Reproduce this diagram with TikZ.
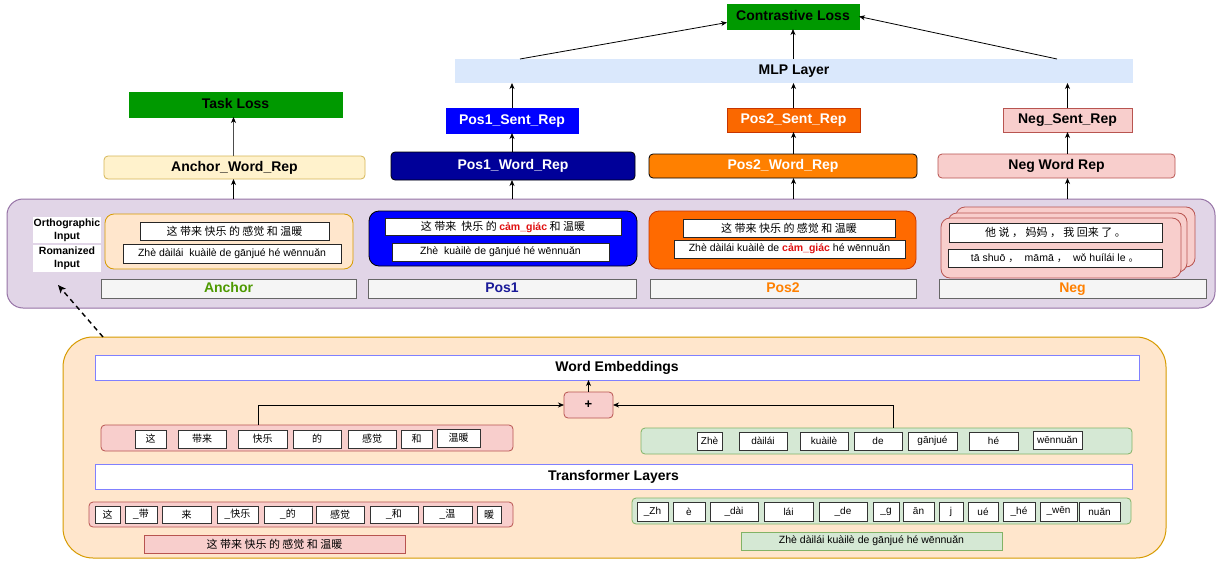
\documentclass[tikz,border=0pt]{standalone}
\usepackage{fontspec}
\setmainfont{Liberation Sans}
\newfontfamily\cjk{Noto Sans CJK SC}
\usetikzlibrary{arrows.meta}
\definecolor{purpf}{HTML}{E1D5E7}
\definecolor{purpd}{HTML}{9673A6}
\definecolor{orangef}{HTML}{FFE6CC}
\definecolor{oranged}{HTML}{D79B00}
\definecolor{pinkf}{HTML}{F8CECC}
\definecolor{pinkd}{HTML}{B85450}
\definecolor{greenf}{HTML}{D5E8D4}
\definecolor{greend}{HTML}{82B366}
\definecolor{yellowf}{HTML}{FFF2CC}
\definecolor{yellowd}{HTML}{D6B656}
\definecolor{mlpf}{HTML}{DAE8FC}
\definecolor{lossg}{HTML}{009900}
\definecolor{barf}{HTML}{F5F5F5}
\definecolor{bard}{HTML}{666666}
\definecolor{embd}{HTML}{8080FF}
\definecolor{anchorc}{HTML}{4D9900}
\definecolor{posonec}{HTML}{1A1A99}
\definecolor{postwoc}{HTML}{FF8000}
\definecolor{navyf}{HTML}{000099}
\definecolor{pos2sf}{HTML}{FA6800}
\definecolor{pos2sd}{HTML}{C73500}
\definecolor{pos2in}{HTML}{FF6A00}
\definecolor{redtxt}{HTML}{E01010}
\newcommand{\zh}[1]{{\cjk #1}}
\newcommand{\bx}[7]{\node[#1,anchor=north west,minimum width=#4pt-#2pt,minimum height=#5pt-#3pt] (#6) at (#2,#3) {#7};}
\begin{document}
\begin{tikzpicture}[x=1pt,y=-1pt,
  every node/.style={inner sep=0pt,outer sep=0pt,align=center},
  lbl/.style={font=\fontsize{14}{16}\selectfont\bfseries,text height=10pt,text depth=3pt},
  lossbox/.style={fill=lossg,draw=lossg,line width=0.8pt,lbl},
  mlpbox/.style={fill=mlpf,lbl},
  ponesent/.style={fill=blue,draw=blue,line width=0.8pt,lbl,text=white},
  ptwosent/.style={fill=pos2sf,draw=pos2sd,line width=0.8pt,lbl,text=white},
  negsent/.style={fill=pinkf,draw=pinkd,line width=0.8pt,lbl},
  anchword/.style={fill=yellowf,draw=yellowd,line width=0.8pt,rounded corners=4pt,lbl},
  poneword/.style={fill=navyf,draw=black,line width=0.8pt,rounded corners=4pt,lbl,text=white},
  ptwoword/.style={fill=postwoc,draw=black,line width=0.8pt,rounded corners=4pt,lbl,text=white},
  negword/.style={fill=pinkf,draw=pinkd,line width=0.8pt,rounded corners=4pt,lbl},
  purpbox/.style={fill=purpf,draw=purpd,line width=1pt,rounded corners=16pt},
  encbox/.style={fill=orangef,draw=oranged,line width=1pt,rounded corners=30pt},
  anchin/.style={fill=orangef,draw=oranged,line width=0.8pt,rounded corners=9pt},
  ponein/.style={fill=blue,draw=black,line width=0.8pt,rounded corners=10pt},
  ptwoin/.style={fill=pos2in,draw=pos2sd,line width=0.8pt,rounded corners=10pt},
  negcard/.style={fill=pinkf,draw=pinkd,line width=0.8pt,rounded corners=9pt},
  tb/.style={fill=white,draw=black!85,line width=0.8pt,font=\fontsize{10.5}{12}\selectfont},
  wlab/.style={fill=white,font=\fontsize{10.5}{13}\selectfont\bfseries},
  bar/.style={fill=barf,draw=bard,line width=0.7pt,lbl},
  embbox/.style={fill=white,draw=embd,line width=0.9pt,lbl},
  plusbox/.style={fill=pinkf,draw=pinkd,line width=0.8pt,rounded corners=4pt,font=\fontsize{13}{14}\selectfont\bfseries},
  pinkrow/.style={fill=pinkf,draw=pinkd,line width=0.8pt,rounded corners=4pt},
  greenrow/.style={fill=greenf,draw=greend,line width=0.8pt,rounded corners=4pt},
  pinklong/.style={fill=pinkf,draw=pinkd,line width=0.8pt,font=\fontsize{11}{12}\selectfont},
  greenlong/.style={fill=greenf,draw=greend,line width=0.8pt,font=\fontsize{10.5}{12}\selectfont},
  tok/.style={fill=white,draw=black!80,line width=0.8pt,font=\fontsize{10}{11}\selectfont},
  arr/.style={draw=black,line width=0.8pt,-{Stealth[length=6pt,width=5pt,inset=1.8pt]}},
  garr/.style={draw=black!70,line width=0.8pt,-{Stealth[length=6pt,width=5pt,inset=1.8pt,color=black]}},
  dasharr/.style={draw=black,line width=1.4pt,dash pattern=on 5pt off 4pt,-{Stealth[length=8pt,width=7pt,inset=2pt]}}
]
\useasboundingbox (0,0) rectangle (1218,562);
\fill[white] (0,0) rectangle (1218,562);

% ---- top heads
\bx{lossbox}{727}{4}{859}{29}{closs}{Contrastive Loss}
\bx{mlpbox}{455}{59}{1133}{83}{mlp}{MLP Layer}
\bx{lossbox}{129}{92}{342}{117}{tloss}{Task Loss}
\bx{ponesent}{446}{108}{578}{133}{pones}{Pos1\_Sent\_Rep}
\bx{ptwosent}{727}{108}{860}{132}{ptwos}{Pos2\_Sent\_Rep}
\bx{negsent}{1003}{108}{1132}{132}{negs}{Neg\_Sent\_Rep}
\bx{anchword}{104}{156}{365}{179}{anchw}{Anchor\_Word\_Rep}
\bx{poneword}{391}{152}{635}{180}{ponew}{Pos1\_Word\_Rep}
\bx{ptwoword}{649}{154}{917}{178}{ptwow}{Pos2\_Word\_Rep}
\bx{negword}{938}{154}{1175}{178}{negw}{Neg Word Rep}

% ---- input panel
\bx{purpbox}{7}{199}{1215}{308}{inputs}{}
\bx{wlab}{33}{217}{101}{243}{ortho}{Orthographic\\Input}
\bx{wlab}{33}{245}{101}{272}{roman}{Romanized\\Input}

\bx{anchin}{105}{214}{353}{269}{ain}{}
\bx{tb}{140}{222}{329}{240}{aorth}{\zh{\fontsize{11}{12}\selectfont 这 带来 快乐 的 感觉 和 温暖}}
\bx{tb}{123}{244}{341}{263}{arom}{Zhè dàilái\ \ kuàilè de gānjué hé wēnnuǎn}

\bx{ponein}{369}{211}{637}{266}{p1in}{}
\bx{tb}{385}{218}{621}{235}{p1orth}{\zh{\fontsize{11}{12}\selectfont 这 带来\ \ 快乐 的 }{\bfseries\color{redtxt}cảm\_giác}\zh{\fontsize{11}{12}\selectfont\ 和 温暖}}
\bx{tb}{392}{243}{609}{261}{p1rom}{Zhè\ \ kuàilè de gānjué hé wēnnuǎn}

\bx{ptwoin}{649}{211}{916}{269}{p2in}{}
\bx{tb}{683}{219}{895}{237}{p2orth}{\zh{\fontsize{11}{12}\selectfont 这 带来 快乐 的 感觉 和 温暖}}
\bx{tb}{674}{240}{905}{258}{p2rom}{Zhè dàilái kuàilè de {\bfseries\color{redtxt}cảm\_giác} hé wēnnuǎn}

\bx{negcard}{956}{207}{1195}{267}{negc3}{}
\bx{negcard}{948}{213}{1187}{272}{negc2}{}
\bx{negcard}{941}{218}{1181}{278}{negin}{}
\bx{tb}{949}{223}{1162}{242}{negorth}{\zh{\fontsize{11}{12}\selectfont 他 说 ， 妈妈 ， 我 回来 了 。}}
\bx{tb}{948}{249}{1162}{267}{negrom}{tā shuō \zh{，}\ \ māmā \zh{，}\ \ wǒ huílái le \zh{。}}

\bx{bar}{101}{279}{356}{298}{lanchor}{\color{anchorc}Anchor}
\bx{bar}{368}{279}{636}{298}{lpone}{\color{posonec}Pos1}
\bx{bar}{650}{279}{916}{298}{lptwo}{\color{postwoc}Pos2}
\bx{bar}{939}{279}{1206}{298}{lneg}{\color{postwoc}Neg}

% ---- encoder panel
\bx{encbox}{63}{337}{1166}{558}{enc}{}
\bx{embbox}{95}{355}{1139}{380}{wemb}{Word Embeddings}
\bx{plusbox}{564}{392}{613}{418}{plus}{+}
\bx{pinkrow}{101}{425}{513}{451}{cjrow}{}
\bx{tok}{135}{430}{166}{448}{c1}{\zh{这}}
\bx{tok}{178}{430}{226}{448}{c2}{\zh{带来}}
\bx{tok}{238}{430}{287}{448}{c3}{\zh{快乐}}
\bx{tok}{293}{430}{341}{448}{c4}{\zh{的}}
\bx{tok}{348}{430}{396}{448}{c5}{\zh{感觉}}
\bx{tok}{401}{430}{432}{448}{c6}{\zh{和}}
\bx{tok}{437}{429}{480}{447}{c7}{\zh{温暖}}

\bx{greenrow}{641}{428}{1132}{454}{rmrow}{}
\bx{tok}{697}{432}{722}{450}{r1}{Zhè}
\bx{tok}{739}{432}{787}{450}{r2}{dàilái}
\bx{tok}{800}{432}{848}{450}{r3}{kuàilè}
\bx{tok}{854}{432}{902}{450}{r4}{de}
\bx{tok}{908}{432}{957}{450}{r5}{gānjué}
\bx{tok}{969}{432}{1018}{450}{r6}{hé}
\bx{tok}{1033}{431}{1082}{449}{r7}{wēnnuǎn}

\bx{embbox}{95}{464}{1132}{489}{trans}{Transformer Layers}

\bx{pinkrow}{89}{502}{513}{527}{cjsub}{}
\bx{tok}{95}{506}{120}{523}{s1}{\zh{这}}
\bx{tok}{125}{506}{157}{523}{s2}{\_\zh{带}}
\bx{tok}{162}{506}{211}{523}{s3}{\zh{来}}
\bx{tok}{217}{506}{258}{523}{s4}{\_\zh{快乐}}
\bx{tok}{264}{506}{312}{523}{s5}{\_\zh{的}}
\bx{tok}{316}{506}{364}{523}{s6}{\zh{感觉}}
\bx{tok}{370}{506}{418}{523}{s7}{\_\zh{和}}
\bx{tok}{423}{506}{472}{523}{s8}{\_\zh{温}}
\bx{tok}{477}{506}{501}{523}{s9}{\zh{暖}}

\bx{greenrow}{632}{498}{1131}{524}{rmsub}{}
\bx{tok}{637}{502}{668}{521}{g1}{\_Zh}
\bx{tok}{673}{502}{705}{521}{g2}{è}
\bx{tok}{710}{502}{758}{521}{g3}{\_dài}
\bx{tok}{764}{502}{813}{521}{g4}{lái}
\bx{tok}{819}{502}{867}{521}{g5}{\_de}
\bx{tok}{873}{502}{899}{521}{g6}{\_g}
\bx{tok}{903}{502}{934}{521}{g7}{ān}
\bx{tok}{939}{502}{963}{521}{g8}{j}
\bx{tok}{968}{502}{998}{521}{g9}{ué}
\bx{tok}{1003}{502}{1035}{521}{g10}{\_hé}
\bx{tok}{1040}{502}{1077}{521}{g11}{\_wēn}
\bx{tok}{1079}{502}{1120}{521}{g12}{nuǎn}

\bx{pinklong}{144}{535}{405}{553}{cjfull}{\zh{这 带来 快乐 的 感觉 和 温暖}}
\bx{greenlong}{741}{532}{1002}{550}{rmfull}{Zhè dàilái kuàilè de gānjué hé wēnnuǎn}

% ---- connectors
\coordinate (mlpL) at (520,59);
\coordinate (mlpR) at (1057,59);
\coordinate (dashend) at (58,285);
\draw[arr] (mlpL) -- ([yshift=-6pt]closs.west);
\draw[arr] (mlpR) -- (closs.east);
\draw[arr] (closs.south |- mlp.north) -- (closs.south);
\draw[arr] (pones.north) -- (pones.north |- mlp.south);
\draw[arr] (ptwos.north) -- (ptwos.north |- mlp.south);
\draw[arr] (negs.north) -- (negs.north |- mlp.south);
\draw[arr] (ponew.north -| pones.south) -- (pones.south);
\draw[arr] (ptwow.north -| ptwos.south) -- (ptwos.south);
\draw[arr] (negw.north -| negs.south) -- (negs.south);
\draw[garr] ([xshift=-2pt]tloss.south |- anchw.north) -- ([xshift=-2pt]tloss.south);
\draw[arr] ([xshift=-2pt]tloss.south |- inputs.north) -- ([xshift=-2pt]tloss.south |- anchw.south);
\draw[arr] (pones.south |- inputs.north) -- (pones.south |- ponew.south);
\draw[arr] (ptwos.south |- inputs.north) -- (ptwos.south |- ptwow.south);
\draw[arr] (negs.south |- inputs.north) -- (negs.south |- negw.south);
\draw[dasharr] ([xshift=40pt]enc.north west) -- (dashend);
\draw[arr] (plus.north) -- (plus.north |- wemb.south);
\draw[arr] ([xshift=157pt]cjrow.north west) |- (plus.west);
\draw[arr] ([xshift=252pt]rmrow.north west) |- (plus.east);
\end{tikzpicture}
\end{document}
